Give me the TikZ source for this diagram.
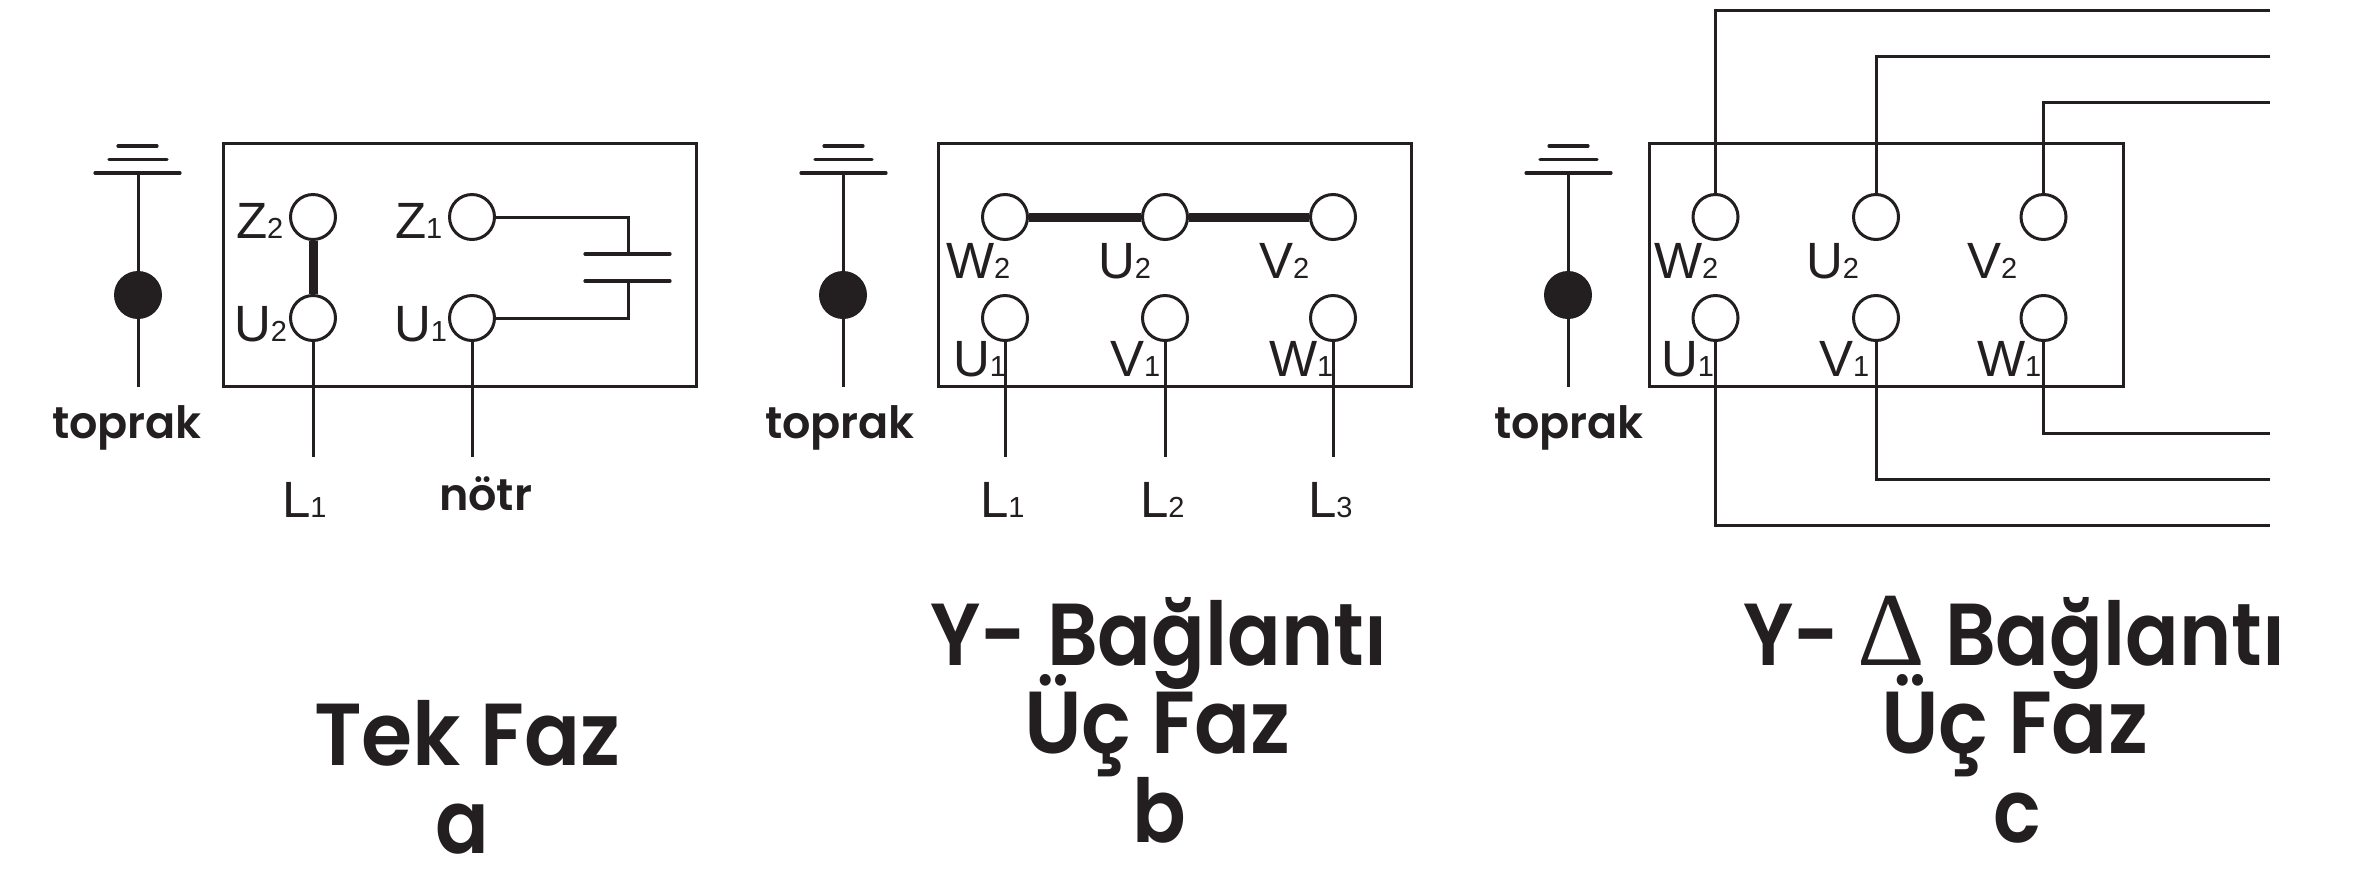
\documentclass[tikz,border=0pt]{standalone}
\usepackage{fontspec}
\setmainfont{Liberation Sans}
\newfontfamily\titlefont[FakeStretch=0.9]{Poppins SemiBold}
\newfontfamily\fazfont[FakeStretch=0.94]{Poppins SemiBold}
\newfontfamily\wordfont{Poppins SemiBold}
\newfontfamily\deltafont{Liberation Serif}
\definecolor{ink}{HTML}{231F20}
\tikzset{
  wire/.style={draw=ink,line width=3pt},
  plate/.style={draw=ink,line width=3.2pt,line cap=round},
  link/.style={draw=ink,line width=9pt},
  panelbox/.style={draw=ink,line width=3pt,minimum height=243pt,inner sep=0pt,outer sep=0pt,anchor=north west},
  terminal/.style={circle,draw=ink,line width=3pt,fill=white,minimum size=45pt,inner sep=0pt},
  earthdot/.style={circle,fill=ink,minimum size=48pt,inner sep=0pt},
  lab/.style={anchor=base west,inner sep=0pt,outer sep=0pt,text=ink,font=\fontsize{51}{51}\selectfont},
  word/.style={anchor=base west,inner sep=0pt,outer sep=0pt,text=ink,font=\wordfont\fontsize{44.5}{44.5}\selectfont},
  head/.style={anchor=base west,inner sep=0pt,outer sep=0pt,text=ink,font=\titlefont\fontsize{88}{88}\selectfont},
  fazhead/.style={anchor=base west,inner sep=0pt,outer sep=0pt,text=ink,font=\fazfont\fontsize{88}{88}\selectfont},
}
\newcommand{\sbs}[1]{{\fontsize{29}{29}\selectfont #1}}
\begin{document}
\begin{tikzpicture}[x=1pt,y=-1pt]
\useasboundingbox (0,0) rectangle (2376,879);
% ---- panel a
\node[panelbox,minimum width=473pt] (boxa) at (223,143) {};
\coordinate (gaend) at (138,387);
\draw[wire] (138,173) -- (gaend);
\node[earthdot] (dota) at (138,295) {};
\draw[plate] (95,173) -- (180,173);
\draw[plate] (109,159.5) -- (167,159.5);
\draw[plate] (118,146) -- (157,146);
\node[word] (ta) at (52,438) {toprak};
\coordinate (la) at (313,457);
\coordinate (na) at (472,457);
\draw[wire] (313,318) -- (la);
\draw[wire] (472,318) -- (na);
\node[terminal] (z2a) at (313,217) {};
\node[terminal] (u2a) at (313,318) {};
\node[terminal] (z1a) at (472,217) {};
\node[terminal] (u1a) at (472,318) {};
\draw[link] (z2a) -- (u2a);
\coordinate (capt) at (628,254);
\coordinate (capb) at (628,281);
\draw[wire] (z1a) -| (capt);
\draw[wire] (u1a) -| (capb);
\draw[plate] (585,254) -- (670,254);
\draw[plate] (585,281) -- (670,281);
\node[lab] (lz2a) at (236,238) {Z\sbs{2}};
\node[lab] (lu2a) at (234,341) {U\sbs{2}};
\node[lab] (lz1a) at (395,238) {Z\sbs{1}};
\node[lab] (lu1a) at (394,341) {U\sbs{1}};
\node[lab] (lla) at (282,517) {L\sbs{1}};
\node[word] (lna) at (439,510) {nötr};
\node[fazhead] (ha) at (314,765) {Tek Faz};
\node[head] (ia) at (435,853) {a};
% ---- panel b
\node[panelbox,minimum width=473pt] (boxb) at (938,143) {};
\coordinate (gbend) at (843,387);
\draw[wire] (843,173) -- (gbend);
\node[earthdot] (dotb) at (843,295) {};
\draw[plate] (801,173) -- (886,173);
\draw[plate] (815,159.5) -- (872,159.5);
\draw[plate] (824,146) -- (863,146);
\node[word] (tb) at (765,438) {toprak};
\coordinate (l1b) at (1005,457);
\coordinate (l2b) at (1165,457);
\coordinate (l3b) at (1333,457);
\node[terminal] (w2b) at (1005,217) {};
\node[terminal] (u2b) at (1165,217) {};
\node[terminal] (v2b) at (1333,217) {};
\node[terminal] (u1b) at (1005,318) {};
\node[terminal] (v1b) at (1165,318) {};
\node[terminal] (w1b) at (1333,318) {};
\draw[link] (w2b) -- (u2b);
\draw[link] (u2b) -- (v2b);
\node[lab] (lw2b) at (946,278) {W\sbs{2}};
\node[lab] (lu2b) at (1098,278) {U\sbs{2}};
\node[lab] (lv2b) at (1259,278) {V\sbs{2}};
\node[lab] (lu1b) at (953,376) {U\sbs{1}};
\node[lab] (lv1b) at (1110,376) {V\sbs{1}};
\node[lab] (lw1b) at (1269,376) {W\sbs{1}};
\draw[wire] (u1b) -- (l1b);
\draw[wire] (v1b) -- (l2b);
\draw[wire] (w1b) -- (l3b);
\node[lab] (ll1b) at (980,517) {L\sbs{1}};
\node[lab] (ll2b) at (1140,517) {L\sbs{2}};
\node[lab] (ll3b) at (1308,517) {L\sbs{3}};
\node[head] (hb1) at (930,665) {Y-};
\node[head] (hb2) at (1047,665) {Bağlantı};
\node[fazhead] (hb3) at (1024,753) {Üç Faz};
\node[head] (ib) at (1132,842) {b};
% ---- panel c
\node[panelbox,minimum width=474pt] (boxc) at (1649,143) {};
\coordinate (gcend) at (1568,387);
\draw[wire] (1568,173) -- (gcend);
\node[earthdot] (dotc) at (1568,295) {};
\draw[plate] (1526,173) -- (1611,173);
\draw[plate] (1540,159.5) -- (1597,159.5);
\draw[plate] (1549,146) -- (1588,146);
\node[word] (tc) at (1494,438) {toprak};
\coordinate (e1) at (2270,10);
\coordinate (e2) at (2270,56);
\coordinate (e3) at (2270,102);
\coordinate (e4) at (2270,433);
\coordinate (e5) at (2270,479);
\coordinate (e6) at (2270,525);
\node[terminal] (w2c) at (1715.5,217) {};
\node[terminal] (u2c) at (1876,217) {};
\node[terminal] (v2c) at (2043.5,217) {};
\node[terminal] (u1c) at (1715.5,318) {};
\node[terminal] (v1c) at (1876,318) {};
\node[terminal] (w1c) at (2043.5,318) {};
\node[lab] (lw2c) at (1654,278) {W\sbs{2}};
\node[lab] (lu2c) at (1806,278) {U\sbs{2}};
\node[lab] (lv2c) at (1967,278) {V\sbs{2}};
\node[lab] (lu1c) at (1661,376) {U\sbs{1}};
\node[lab] (lv1c) at (1819,376) {V\sbs{1}};
\node[lab] (lw1c) at (1977,376) {W\sbs{1}};
\draw[wire] (w2c) |- (e1);
\draw[wire] (u2c) |- (e2);
\draw[wire] (v2c) |- (e3);
\draw[wire] (u1c) |- (e6);
\draw[wire] (v1c) |- (e5);
\draw[wire] (w1c) |- (e4);
\node[head] (hc1) at (1743,665) {Y-};
\node[anchor=base west,inner sep=0pt,text=ink,font=\deltafont\fontsize{105}{105}\selectfont] (hc2) at (1857,665) {Δ};
\node[head] (hc3) at (1945,665) {Bağlantı};
\node[fazhead] (hc4) at (1881,753) {Üç Faz};
\node[head] (ic) at (1993,842) {c};
\end{tikzpicture}
\end{document}
